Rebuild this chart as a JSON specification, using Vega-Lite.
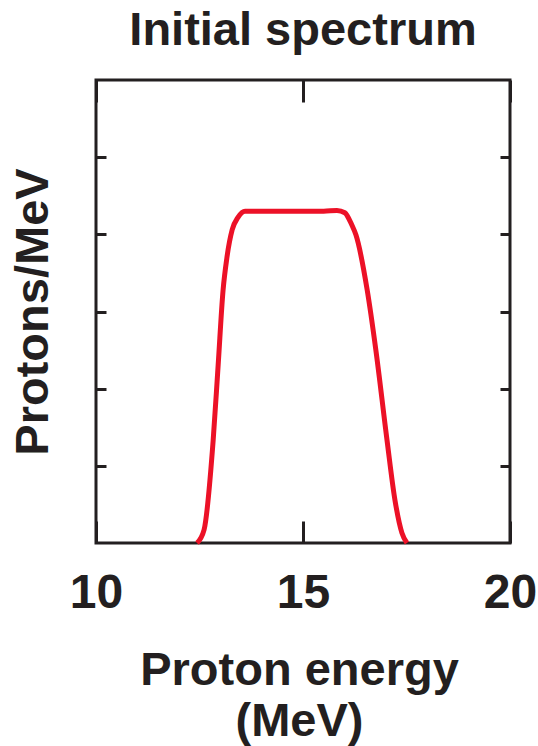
{
  "$schema": "https://vega.github.io/schema/vega-lite/v6.json",
  "width": 414,
  "height": 463,
  "autosize": {"type": "none"},
  "padding": {"left": 96, "top": 80, "right": 28, "bottom": 203},
  "background": "white",
  "title": {
    "text": "Initial spectrum",
    "font": "Liberation Sans",
    "fontSize": 47,
    "fontWeight": "bold",
    "color": "#231f20",
    "anchor": "middle",
    "frame": "group",
    "baseline": "alphabetic",
    "offset": -13
  },
  "config": {
    "view": {"stroke": "#231f20", "strokeWidth": 3},
    "axis": {
      "domain": false,
      "grid": false,
      "tickColor": "#231f20",
      "tickWidth": 3,
      "labelFont": "Liberation Sans",
      "titleFont": "Liberation Sans",
      "labelColor": "#231f20",
      "titleColor": "#231f20"
    }
  },
  "data": {
    "values": [
      {"energy": 12.44, "protons": 0},
      {"energy": 12.61, "protons": 0.17},
      {"energy": 12.83, "protons": 1.33},
      {"energy": 12.95, "protons": 2.3},
      {"energy": 13.07, "protons": 3.28},
      {"energy": 13.16, "protons": 3.69},
      {"energy": 13.29, "protons": 4.06},
      {"energy": 13.43, "protons": 4.22},
      {"energy": 13.6, "protons": 4.3},
      {"energy": 14.5, "protons": 4.3},
      {"energy": 15.5, "protons": 4.3},
      {"energy": 15.82, "protons": 4.31},
      {"energy": 16.01, "protons": 4.28},
      {"energy": 16.18, "protons": 4.12},
      {"energy": 16.28, "protons": 3.99},
      {"energy": 16.55, "protons": 3.28},
      {"energy": 16.76, "protons": 2.5},
      {"energy": 17.03, "protons": 1.33},
      {"energy": 17.22, "protons": 0.56},
      {"energy": 17.39, "protons": 0.13},
      {"energy": 17.51, "protons": 0}
    ]
  },
  "layer": [
    {
      "mark": {"type": "line", "color": "#ec1127", "strokeWidth": 5, "interpolate": "monotone"},
      "encoding": {
        "x": {
          "field": "energy",
          "type": "quantitative",
          "scale": {"domain": [10, 20], "nice": false, "zero": false},
          "axis": {
            "orient": "bottom",
            "values": [10, 15, 20],
            "tickSize": -22,
            "labelFontSize": 48,
            "labelFontWeight": "bold",
            "labelBaseline": "alphabetic",
            "labelPadding": 86,
            "labelFlush": false,
            "labelOverlap": false,
            "title": ["Proton energy", "(MeV)"],
            "titleFontSize": 47,
            "titleFontWeight": "bold",
            "titleBaseline": "alphabetic",
            "titleLineHeight": 51,
            "titleAlign": "center",
            "titleX": 203,
            "titleY": 141
          }
        },
        "y": {
          "field": "protons",
          "type": "quantitative",
          "scale": {"domain": [0, 6], "nice": false},
          "axis": {
            "orient": "left",
            "values": [1, 2, 3, 4, 5],
            "tickSize": -10,
            "labels": false,
            "title": "Protons/MeV",
            "titleFontSize": 47,
            "titleFontWeight": "bold",
            "titleBaseline": "alphabetic",
            "titleAlign": "center",
            "titleAngle": 270,
            "titleX": -49,
            "titleY": 231.5
          }
        }
      }
    },
    {
      "mark": {"type": "line", "opacity": 0},
      "encoding": {
        "x": {
          "field": "energy",
          "type": "quantitative",
          "scale": {"domain": [10, 20], "nice": false, "zero": false},
          "axis": {"orient": "top", "values": [10, 15, 20], "tickSize": -22, "labels": false, "title": null}
        },
        "y": {
          "field": "protons",
          "type": "quantitative",
          "scale": {"domain": [0, 6], "nice": false},
          "axis": {"orient": "right", "values": [1, 2, 3, 4, 5], "tickSize": -10, "labels": false, "title": null}
        }
      }
    }
  ],
  "resolve": {"axis": {"x": "independent", "y": "independent"}}
}
